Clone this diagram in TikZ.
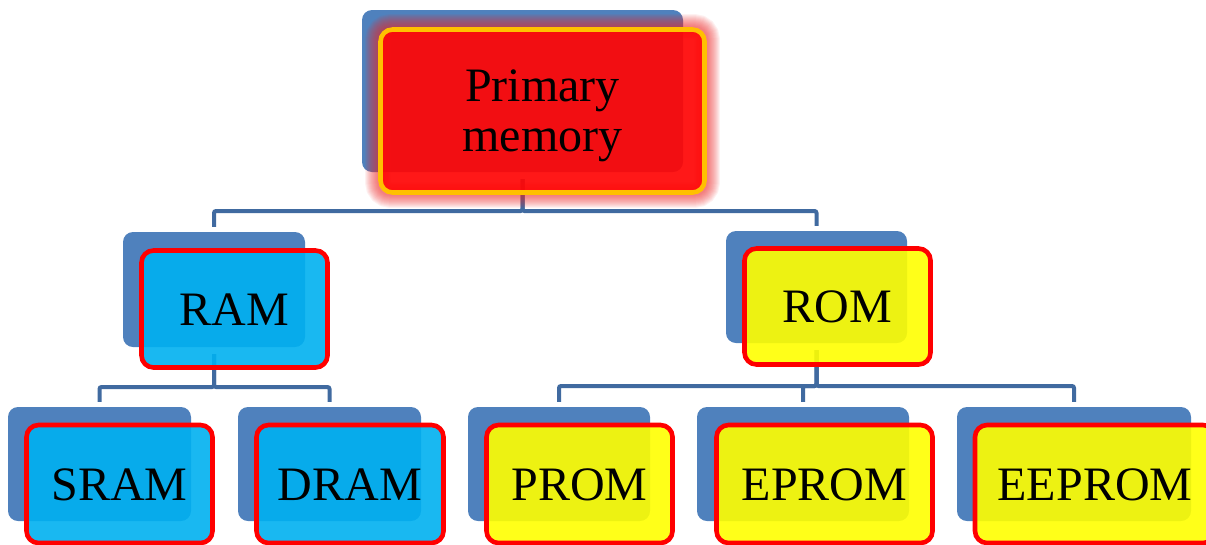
\documentclass[tikz,border=0pt]{standalone}
\usepackage{fontspec}
\setmainfont{Liberation Serif}
\usetikzlibrary{calc}

\definecolor{backblue}{RGB}{79,129,189}
\definecolor{linkblue}{RGB}{64,106,160}
\definecolor{topred}{RGB}{255,6,6}
\definecolor{ramblue}{RGB}{0,176,240}
\definecolor{romyellow}{RGB}{255,255,0}
\definecolor{goldedge}{RGB}{255,192,0}
\definecolor{edgered}{RGB}{255,0,0}
\definecolor{glowred}{RGB}{235,40,40}

\pgfdeclarelayer{back}
\pgfdeclarelayer{glow}
\pgfsetlayers{back,glow,main}

\tikzset{
  backbox/.style={fill=backblue, draw=none, rounded corners=10pt, inner sep=0pt},
  frontbox/.style={draw=edgered, line width=4.6pt, rounded corners=12pt,
    fill opacity=0.9, text opacity=1, inner sep=0pt,
    text height=32pt, text depth=0pt, align=center,
    font=\fontsize{48}{50}\selectfont},
  topbox/.style={frontbox, draw=goldedge, fill=topred, fill opacity=0.93},
  rambox/.style={frontbox, fill=ramblue},
  rombox/.style={frontbox, fill=romyellow},
  link/.style={draw=linkblue, line width=4pt, rounded corners=2pt,
    shorten <=7pt, shorten >=5pt},
}

\begin{document}
\begin{tikzpicture}[x=1pt,y=-1pt]
\useasboundingbox (0,0) rectangle (1206,544);

% shadow cards behind each entry
\begin{pgfonlayer}{back}
\node[backbox, minimum width=321pt, minimum height=162pt] (pmB) at (522.5,91) {};
\node[backbox, minimum width=182pt, minimum height=115pt] (ramB) at (214,289.5) {};
\node[backbox, minimum width=181pt, minimum height=112pt] (romB) at (816.5,287) {};
\node[backbox, minimum width=183pt, minimum height=114pt] (sramB) at (99.5,464) {};
\node[backbox, minimum width=183pt, minimum height=114pt] (dramB) at (329.5,464) {};
\node[backbox, minimum width=182pt, minimum height=114pt] (promB) at (559,464) {};
\node[backbox, minimum width=212pt, minimum height=114pt] (epromB) at (803,464) {};
\node[backbox, minimum width=234pt, minimum height=114pt] (eepromB) at (1074,464) {};

% bus levels of the tree
\coordinate (busTop) at (0,211);
\coordinate (busRam) at (0,387);
\coordinate (busRom) at (0,386);

% tree connectors
\draw[link] (pmB.south) |- (busTop -| ramB.north) -- (ramB.north);
\draw[link] (pmB.south) |- (busTop -| romB.north) -- (romB.north);
\draw[link] (ramB.south) |- (busRam -| sramB.north) -- (sramB.north);
\draw[link] (ramB.south) |- (busRam -| dramB.north) -- (dramB.north);
\draw[link] (romB.south) |- (busRom -| promB.north) -- (promB.north);
\draw[link] (romB.south) |- (busRom -| epromB.north) -- (epromB.north);
\draw[link] (romB.south) |- (busRom -| eepromB.north) -- (eepromB.north);
\end{pgfonlayer}

% entries
\node[topbox, minimum width=324pt, minimum height=163pt, text height=80pt] (pm) at (542.5,111)
  {\begin{tabular}[b]{@{}c@{}}Primary\\memory\end{tabular}};
\node[rambox, minimum width=186pt, minimum height=117pt] (ram) at (234.5,309) {RAM};
\node[rombox, minimum width=186pt, minimum height=116pt] (rom) at (837.5,306.5) {ROM};
\node[rambox, minimum width=186pt, minimum height=118pt] (sram) at (119.5,484) {SRAM};
\node[rambox, minimum width=187pt, minimum height=118pt] (dram) at (350,484) {DRAM};
\node[rombox, minimum width=186pt, minimum height=118pt] (prom) at (579.5,484) {PROM};
\node[rombox, minimum width=216pt, minimum height=118pt] (eprom) at (824.5,484) {EPROM};
\node[rombox, minimum width=240pt, minimum height=118pt] (eeprom) at (1095,484) {EEPROM};

% soft red glow round the root entry
\begin{pgfonlayer}{glow}
\foreach \w in {2,4,...,26}
  \draw[glowred, line width=\w pt, draw opacity=0.065, rounded corners=12pt]
    (pm.north west) rectangle (pm.south east);
\end{pgfonlayer}
\end{tikzpicture}
\end{document}
